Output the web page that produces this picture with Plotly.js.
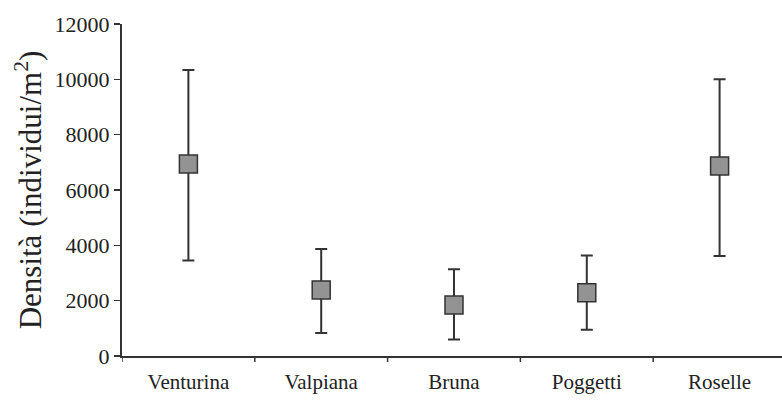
<!DOCTYPE html>
<html><head><meta charset="utf-8">
<script src="https://cdn.plot.ly/plotly-3.0.1.min.js"></script>
<style>html,body{margin:0;padding:0;background:#fff}#chart{width:782px;height:400px}</style>
</head><body><div id="chart"></div>
<script>
const sites = ["Venturina", "Valpiana", "Bruna", "Poggetti", "Roselle"];
const meanDensity = [6940, 2390, 1840, 2290, 6870];
const upperBound = [10340, 3870, 3140, 3630, 10000];
const lowerBound = [3450, 830, 600, 950, 3610];
const yTicks = [0, 2000, 4000, 6000, 8000, 10000, 12000];

const errPlus = meanDensity.map((m, i) => upperBound[i] - m);
const errMinus = meanDensity.map((m, i) => m - lowerBound[i]);

const trace = {
  type: "scatter",
  mode: "markers",
  x: sites.map((s, i) => i),
  y: meanDensity,
  marker: {symbol: "square", size: 18, color: "#939393", line: {color: "#333", width: 1.5}},
  error_y: {type: "data", symmetric: false, array: errPlus, arrayminus: errMinus,
            color: "#333", thickness: 2, width: 6},
  hoverinfo: "skip"
};

const serif = "Liberation Serif";
const layout = {
  width: 782, height: 400,
  margin: {l: 122, r: 0, t: 24, b: 44},
  paper_bgcolor: "#fff", plot_bgcolor: "#fff",
  font: {family: serif, color: "#222"},
  showlegend: false,
  xaxis: {
    range: [-0.5, 4.47], tickmode: "array",
    tickvals: sites.map((s, i) => i), ticktext: sites,
    ticks: "", showgrid: false, zeroline: false,
    showline: true, linecolor: "#333", linewidth: 2,
    tickfont: {family: serif, size: 21, color: "#222"}, ticklabelstandoff: 6
  },
  yaxis: {
    range: [0, 12000], tickmode: "array", tickvals: yTicks, ticktext: yTicks.map(String),
    ticks: "outside", ticklen: 6, tickwidth: 1.5, tickcolor: "#333",
    showgrid: false, zeroline: false, showline: true, linecolor: "#333", linewidth: 2,
    tickfont: {family: serif, size: 22, color: "#222"},
    title: {text: "Densità (individui/m<sup>2</sup>)", font: {family: serif, size: 31, color: "#222"}, standoff: 4}
  },
  shapes: [-0.5, 0.5, 1.5, 2.5, 3.5].map(v => ({
    type: "line", xref: "x", yref: "paper", x0: v, x1: v, y0: 0, y1: -0.018,
    line: {color: "#333", width: 1.5}
  }))
};

Plotly.newPlot("chart", [trace], layout, {displayModeBar: false, staticPlot: true});
</script></body></html>
